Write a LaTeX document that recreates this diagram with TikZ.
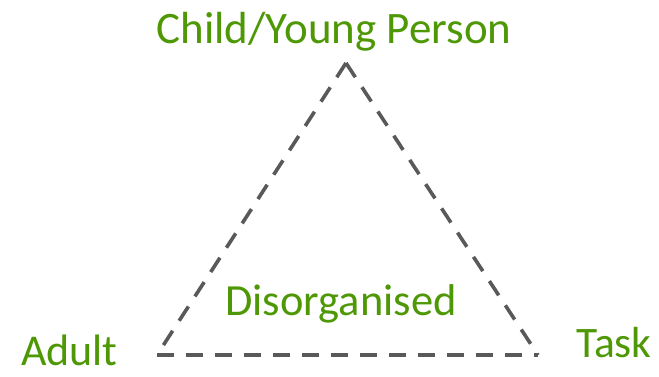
\documentclass[tikz,border=0pt]{standalone}
\usepackage{fontspec}
\setmainfont{Carlito}
\usepackage{tikz}
\usetikzlibrary{positioning}
\definecolor{vertTexte}{RGB}{78, 152, 6}
\definecolor{griTrait}{RGB}{89, 89, 89}

\begin{document}
\begin{tikzpicture}[x=1pt, y=1pt,
  lbl/.style={text=vertTexte, anchor=base, inner sep=0pt, font=\fontsize{#1}{#1}\selectfont},
  side/.style={draw=griTrait, line width=3.6pt, dash pattern=on 17pt off 12pt},
]
\useasboundingbox (0,0) rectangle (659,376);
% corners of the triangle
\coordinate (child) at (346,313);
\coordinate (adult) at (157,21);
\coordinate (task)  at (538,21);
\draw[side] (child) -- (task);
\draw[side] (child) -- (adult);
\draw[side] (adult) -- (task);
% labels
\node[lbl=45]   (childLbl) at (334,333) {Child/Young Person};
\node[lbl=44]   (adultLbl) at (69.5,11) {Adult};
\node[lbl=43.5] (taskLbl)  at (614,19)  {Task};
\node[lbl=44.5] (midLbl)   at (341,61)  {Disorganised};
\end{tikzpicture}
\end{document}
